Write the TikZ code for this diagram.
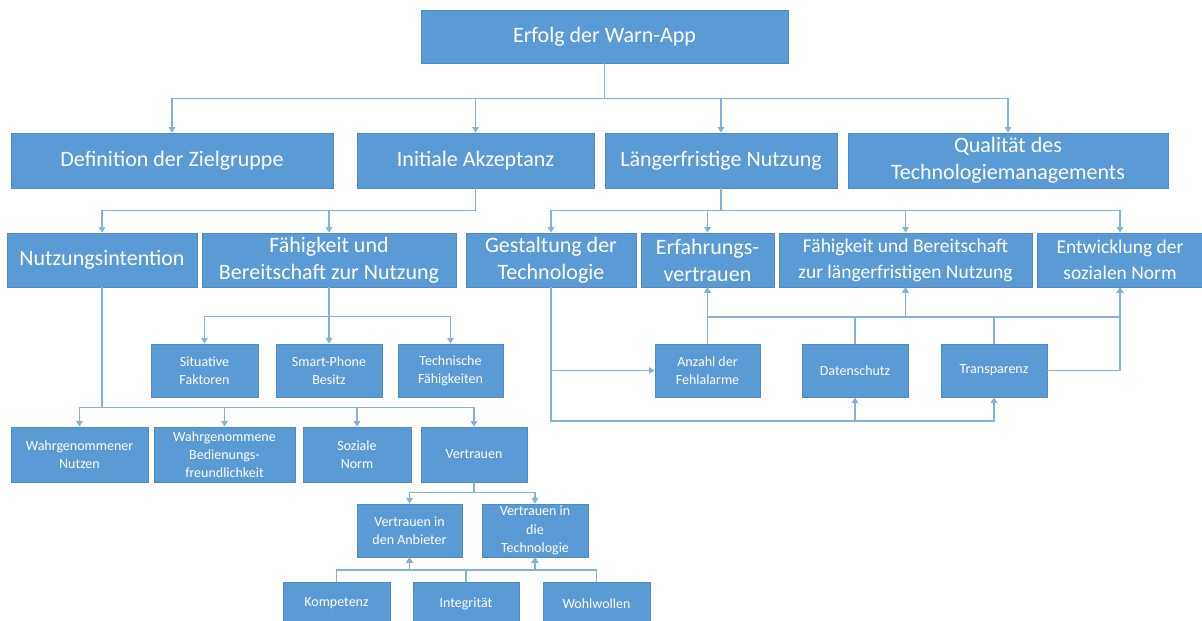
\documentclass[tikz,border=0pt]{standalone}
\usepackage{fontspec}
\setmainfont{Carlito}
\usepackage{tikz}
\usetikzlibrary{arrows.meta}

\definecolor{boxblue}{RGB}{91,155,213}
\definecolor{boxedge}{RGB}{78,138,198}
\definecolor{linkblue}{RGB}{132,178,222}

\begin{document}
\begin{tikzpicture}[x=1pt,y=-1pt,
    box/.style={draw=boxedge, line width=0.8pt, fill=boxblue, text=white, inner sep=0pt, align=center},
    bigtext/.style={font=\fontsize{22}{27}\selectfont},
    midtext/.style={font=\fontsize{19.5}{26}\selectfont},
    smalltext/.style={font=\fontsize{14}{18.3}\selectfont},
    link/.style={draw=linkblue, line width=1.3pt},
    arr/.style={link, -{Triangle[width=6.5pt,length=5.5pt]}}]
    % Frame
    \clip (0,0) rectangle (1202,621);
    \fill[white] (0,0) rectangle (1202,621);

    % Top and second row
    \node[box, bigtext, minimum width=367, minimum height=53] (top) at (604.5,36.5) {Erfolg der Warn-App};
    \node[box, bigtext, minimum width=322, minimum height=55] (def) at (172,160.5) {Definition der Zielgruppe};
    \node[box, bigtext, minimum width=237, minimum height=55] (init) at (475.5,160.5) {Initiale Akzeptanz};
    \node[box, bigtext, minimum width=232, minimum height=55] (lang) at (721,160.5) {Längerfristige Nutzung};
    \node[box, bigtext, minimum width=320, minimum height=55] (qual) at (1008,160.5) {Qualität des\\Technologiemanagements};

    % Third row
    \node[box, bigtext, minimum width=190, minimum height=54] (nutz) at (102,260) {Nutzungsintention};
    \node[box, bigtext, minimum width=254, minimum height=54] (faeh) at (329,260) {Fähigkeit und\\Bereitschaft zur Nutzung};
    \node[box, bigtext, minimum width=170, minimum height=54] (gest) at (551,260) {Gestaltung der\\Technologie};
    \node[box, bigtext, minimum width=133, minimum height=54] (erf) at (707.5,260) {Erfahrungs-\\vertrauen};
    \node[box, midtext, minimum width=253, minimum height=54] (faehl) at (905.5,260) {Fähigkeit und Bereitschaft\\zur längerfristigen Nutzung};
    \node[box, midtext, minimum width=166, minimum height=54] (entw) at (1120,260) {Entwicklung der\\sozialen Norm};

    % Fourth row
    \node[box, smalltext, minimum width=107, minimum height=53] (sit) at (204.5,370.5) {Situative\\Faktoren};
    \node[box, smalltext, minimum width=106, minimum height=53] (smart) at (329,370.5) {Smart-Phone\\Besitz};
    \node[box, smalltext, minimum width=105, minimum height=53] (tech) at (450.5,370.5) {Technische\\Fähigkeiten};
    \node[box, smalltext, minimum width=105, minimum height=53] (anz) at (707.5,370.5) {Anzahl der\\Fehlalarme};
    \node[box, smalltext, minimum width=106, minimum height=53] (dat) at (855,370.5) {Datenschutz};
    \node[box, smalltext, minimum width=106, minimum height=53] (trans) at (994,370.5) {Transparenz};

    % Fifth to seventh row
    \node[box, smalltext, minimum width=137, minimum height=55] (wn) at (79.5,454.5) {Wahrgenommener\\Nutzen};
    \node[box, smalltext, minimum width=141, minimum height=55] (wb) at (224.5,454.5) {Wahrgenommene\\Bedienungs-\\freundlichkeit};
    \node[box, smalltext, minimum width=108, minimum height=55] (sn) at (357,454.5) {Soziale\\Norm};
    \node[box, smalltext, minimum width=106, minimum height=55] (vert) at (474,454.5) {Vertrauen};
    \node[box, smalltext, minimum width=105, minimum height=53] (anb) at (409.5,530.5) {Vertrauen in\\den Anbieter};
    \node[box, smalltext, minimum width=106, minimum height=53] (vtech) at (535,530.5) {Vertrauen in\\die\\Technologie};
    \node[box, smalltext, minimum width=107, minimum height=43] (komp) at (336.5,603.5) {Kompetenz};
    \node[box, smalltext, minimum width=106, minimum height=43] (integ) at (466,603.5) {Integrität};
    \node[box, smalltext, minimum width=107, minimum height=43] (wohl) at (596.5,603.5) {Wohlwollen};

    % Bus levels
    \coordinate (busA) at (0,317);
    \coordinate (busB) at (0,421);
    \coordinate (busC) at (0,570);

    % Tree connectors
    \foreach \n in {def,init,lang,qual}
        \draw[arr] (top.south) -- ++(0,35) -| (\n.north);
    \foreach \n in {nutz,faeh}
        \draw[arr] (init.south) -- ++(0,22) -| (\n.north);
    \foreach \n in {gest,erf,faehl,entw}
        \draw[arr] (lang.south) -- ++(0,22) -| (\n.north);
    \foreach \n in {sit,smart,tech}
        \draw[arr] (faeh.south) -- ++(0,29) -| (\n.north);
    \foreach \n in {wn,wb,sn,vert}
        \draw[arr] (nutz.south) -- ++(0,120) -| (\n.north);
    \foreach \n in {anb,vtech}
        \draw[arr] (vert.south) -- ++(0,10) -| (\n.north);

    % Upward connectors
    \foreach \s in {komp,integ,wohl}
        \foreach \t in {anb,vtech}
            \draw[arr] (\s.north) -- (\s.north |- busC) -| (\t.south);
    \draw[arr] (gest.south) |- (anz.west);
    \foreach \t in {dat,trans}
        \draw[arr] (gest.south) -- (gest.south |- busB) -| (\t.south);
    \foreach \s in {anz,dat,trans}
        \foreach \t in {erf,faehl,entw}
            \draw[arr] (\s.north) -- (\s.north |- busA) -| (\t.south);
    \draw[arr] (trans.east) -| (entw.south);
\end{tikzpicture}
\end{document}
